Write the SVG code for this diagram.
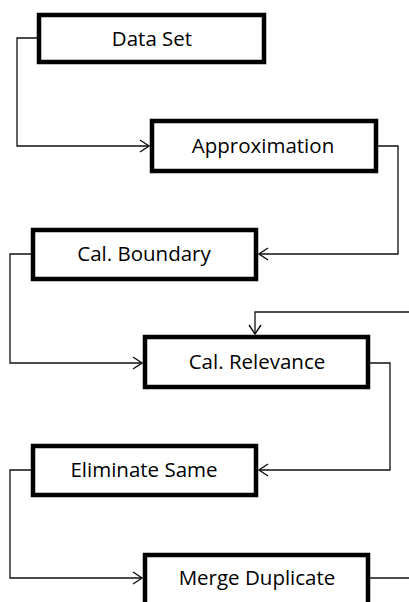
<svg xmlns="http://www.w3.org/2000/svg" width="409" height="602" viewBox="0 0 409 602">
<style>
.box{fill:#fff;stroke:#000;stroke-width:4.5}
.lbl{font-family:"Open Sans","Liberation Sans",sans-serif;font-size:20.5px;fill:#000;text-anchor:middle}
.conn{fill:none;stroke:#111;stroke-width:1.3}
</style>
<defs>
<marker id="arr" markerUnits="userSpaceOnUse" markerWidth="14" markerHeight="14" viewBox="-11 -7 13 14" refX="0" refY="0" orient="auto">
<path d="M-9,-6 L0,0 L-9,6" fill="none" stroke="#111" stroke-width="1.4"/>
</marker>
</defs>
<rect width="409" height="602" fill="#fff"/>
<g id="connectors">
<path class="conn" d="M37,38 H17 V146 H149" marker-end="url(#arr)"/>
<path class="conn" d="M378,146 H398 V254 H259" marker-end="url(#arr)"/>
<path class="conn" d="M31,254 H10 V363 H142" marker-end="url(#arr)"/>
<path class="conn" d="M409,312 H255 V334" marker-end="url(#arr)"/>
<path class="conn" d="M370,363 H390 V470 H259" marker-end="url(#arr)"/>
<path class="conn" d="M31,470 H10 V578 H142" marker-end="url(#arr)"/>
<path class="conn" d="M370,578 H409"/>
</g>
<g id="data-set">
<rect class="box" x="39" y="15" width="225" height="47"/>
<text class="lbl" x="152" y="46">Data Set</text>
</g>
<g id="approximation">
<rect class="box" x="152" y="121" width="224" height="50"/>
<text class="lbl" x="263" y="153">Approximation</text>
</g>
<g id="cal-boundary">
<rect class="box" x="33" y="230" width="223" height="49"/>
<text class="lbl" x="144" y="261">Cal. Boundary</text>
</g>
<g id="cal-relevance">
<rect class="box" x="145" y="337" width="223" height="50"/>
<text class="lbl" x="257" y="369">Cal. Relevance</text>
</g>
<g id="eliminate-same">
<rect class="box" x="33" y="446" width="223" height="49"/>
<text class="lbl" x="144" y="477">Eliminate Same</text>
</g>
<g id="merge-duplicate">
<rect class="box" x="145" y="555" width="223" height="60"/>
<text class="lbl" x="257" y="585">Merge Duplicate</text>
</g>
</svg>
